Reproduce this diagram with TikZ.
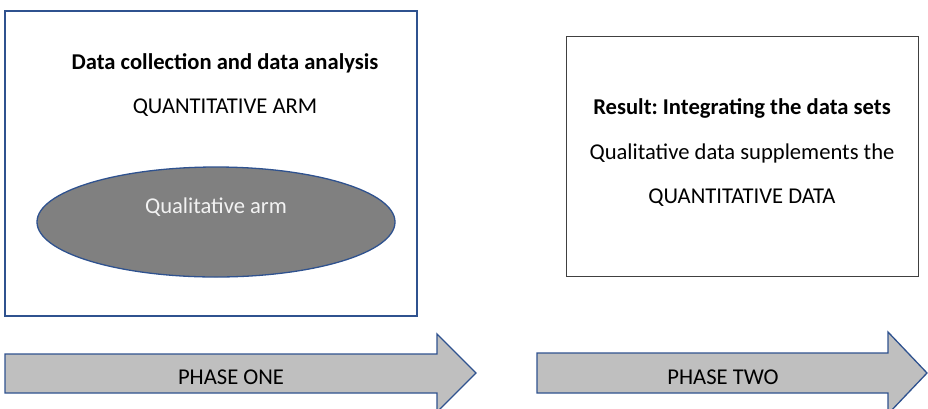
\documentclass[tikz,border=0pt]{standalone}
\usepackage{fontspec}
\setmainfont{Carlito}
\frenchspacing
\usetikzlibrary{shapes.geometric}
\definecolor{obord}{HTML}{2F528F}
\definecolor{ofill}{HTML}{BFBFBF}
\definecolor{egray}{HTML}{808080}
\definecolor{etext}{HTML}{F2F2F2}
\begin{document}
\begin{tikzpicture}[x=1pt,y=-1pt,
  txt/.style={inner sep=0pt,font=\fontsize{22.6}{26}\selectfont},
  bold/.style={txt,font=\fontsize{22.6}{26}\selectfont\bfseries},
  phasearrow/.style={draw=obord,fill=ofill,line width=1.3pt,line join=miter}]
\useasboundingbox (0,0) rectangle (928,408);
% left box
\draw[draw=obord,line width=1.3pt,fill=white] (5,11) rectangle (417,316);
\node[bold] (t1) at (225,63) {Data collection and data analysis};
\node[txt] (t2) at (225,108) {QUANTITATIVE ARM};
\node[ellipse,draw=obord,fill=egray,line width=1.3pt,minimum width=358pt,minimum height=110pt,inner sep=0pt] (ell) at (216,222) {};
\node[txt,text=etext] (t3) at (216,207) {Qualitative arm};
% right box
\node[draw=black!75,line width=1pt,fill=white,minimum width=352pt,minimum height=240pt,inner sep=0pt] (rbox) at (742,156) {};
\node[bold] (r1) at (742,108) {Result: Integrating the data sets};
\node[txt] (r2) at (742,153) {Qualitative data supplements the};
\node[txt] (r3) at (742,198) {QUANTITATIVE DATA};
% arrows
\draw[phasearrow] (5,354) -- (437,354) -- (437,334) -- (476,373) -- (437,412) -- (437,393) -- (5,393) -- cycle;
\node[txt] (p1) at (231,377) {PHASE ONE};
\draw[phasearrow] (537,353) -- (888,353) -- (888,332) -- (927,373) -- (888,414) -- (888,393) -- (537,393) -- cycle;
\node[txt] (p2) at (723,377) {PHASE TWO};
\end{tikzpicture}
\end{document}
